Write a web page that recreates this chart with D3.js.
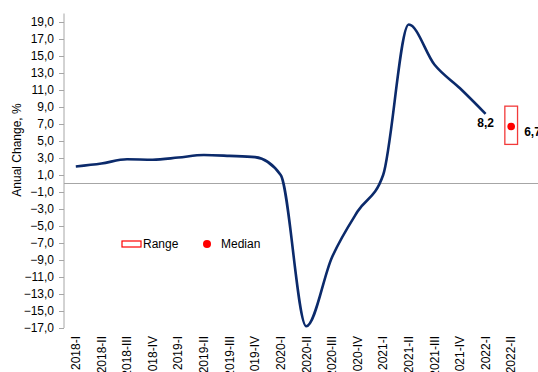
<!DOCTYPE html>
<html>
<head>
<meta charset="utf-8">
<script src="https://cdn.jsdelivr.net/npm/d3@7"></script>
<style>
  html, body { margin: 0; padding: 0; background: #fff; }
  svg { display: block; font-family: "Liberation Sans", Arial, sans-serif; }
</style>
</head>
<body>
<svg id="chart" width="538" height="372"></svg>
<script>
// Quarterly categories on the x axis
const quarters = ["2018-I","2018-II","2018-III","2018-IV","2019-I","2019-II","2019-III","2019-IV",
  "2020-I","2020-II","2020-III","2020-IV","2021-I","2021-II","2021-III","2021-IV","2022-I","2022-II"];

// Observed annual change, % (through 2022-I)
const growth = [2.0, 2.35, 2.85, 2.8, 3.05, 3.35, 3.25, 3.1, 1.0, -16.8, -8.7, -3.3, 1.0, 18.7, 14.0, 11.2, 8.2];

// Forecast for the next quarter: range and median
const forecastQuarter = ["2022-II"];
const forecastLow = [4.6];
const forecastHigh = [9.1];
const forecastMedian = [6.7];

// Y-axis tick values
const yTicks = d3.range(-17, 20, 2);

const svg = d3.select("#chart");
const fmt = v => d3.format(".1f")(v).replace(".", ",");

const x = d3.scaleBand().domain(quarters).range([63, 524]).padding(0);
const y = d3.scaleLinear().domain([-17, 20]).range([328, 13.5]);
const cx = q => x(q) + x.bandwidth() / 2;

// Zero line across the plot
svg.append("line")
  .attr("x1", 64).attr("x2", 538)
  .attr("y1", y(0)).attr("y2", y(0))
  .attr("stroke", "#a6a6a6").attr("stroke-width", 1.2);

// Y axis
const yAxis = svg.append("g")
  .attr("transform", "translate(64,0)")
  .call(d3.axisLeft(y).tickValues(yTicks).tickSize(5).tickPadding(5).tickFormat(fmt));
yAxis.select(".domain").attr("stroke", "#a6a6a6").attr("d", `M-0,${y(20)}V${y(-17)}`);
yAxis.selectAll(".tick line").attr("stroke", "#a6a6a6");
yAxis.selectAll(".tick text").attr("font-size", 12).attr("fill", "#000")
  .attr("font-family", "Liberation Sans, Arial, sans-serif");

// Y axis title
svg.append("text")
  .attr("transform", `translate(21,150) rotate(-90)`)
  .attr("text-anchor", "middle")
  .attr("font-size", 12)
  .text("Anual Change, %");

// Category labels, rotated, below the plot
svg.append("g").selectAll("text")
  .data(quarters)
  .join("text")
  .attr("transform", d => `translate(${cx(d)},336) rotate(-90)`)
  .attr("text-anchor", "end")
  .attr("dy", "0.35em")
  .attr("font-size", 12)
  .text(d => d);

// Observed series
const line = d3.line()
  .x((d, i) => cx(quarters[i]))
  .y(d => y(d))
  .curve(d3.curveMonotoneX);

svg.append("path")
  .datum(growth)
  .attr("d", line)
  .attr("fill", "none")
  .attr("stroke", "#0b2a6b")
  .attr("stroke-width", 2.6);

// Last observed value label
const lastIdx = growth.length - 1;
svg.append("text")
  .attr("x", cx(quarters[lastIdx]))
  .attr("y", y(growth[lastIdx]) + 13)
  .attr("text-anchor", "middle")
  .attr("font-size", 12)
  .attr("font-weight", "bold")
  .text(fmt(growth[lastIdx]));

// Forecast range box and median
const bw = 12.7;
svg.append("g").selectAll("rect")
  .data(forecastQuarter)
  .join("rect")
  .attr("x", (d) => cx(d) - bw / 2)
  .attr("y", (d, i) => y(forecastHigh[i]))
  .attr("width", bw)
  .attr("height", (d, i) => y(forecastLow[i]) - y(forecastHigh[i]))
  .attr("fill", "none")
  .attr("stroke", "#f23a3a")
  .attr("stroke-width", 1.3);

svg.append("g").selectAll("circle")
  .data(forecastQuarter)
  .join("circle")
  .attr("cx", d => cx(d))
  .attr("cy", (d, i) => y(forecastMedian[i]))
  .attr("r", 3.8)
  .attr("fill", "#ff0000");

svg.append("g").selectAll("text")
  .data(forecastQuarter)
  .join("text")
  .attr("x", d => cx(d) + 13)
  .attr("y", (d, i) => y(forecastMedian[i]) + 9)
  .attr("font-size", 12)
  .attr("font-weight", "bold")
  .text((d, i) => fmt(forecastMedian[i]));

// Legend
const legend = svg.append("g");
legend.append("rect")
  .attr("x", 122).attr("y", 241).attr("width", 19).attr("height", 6)
  .attr("fill", "none").attr("stroke", "#ff0000").attr("stroke-width", 1.2);
legend.append("text").attr("x", 143).attr("y", 248).attr("font-size", 12).text("Range");
legend.append("circle").attr("cx", 207).attr("cy", 244).attr("r", 4).attr("fill", "#ff0000");
legend.append("text").attr("x", 221).attr("y", 248).attr("font-size", 12).text("Median");
</script>
</body>
</html>
